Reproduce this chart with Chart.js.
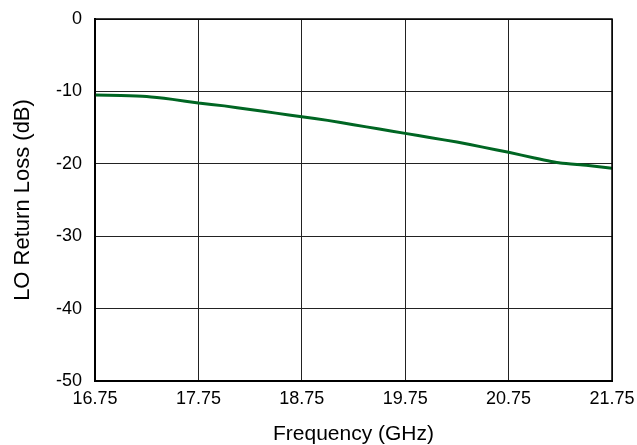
<!DOCTYPE html>
<html><head><meta charset="utf-8">
<script src="https://cdn.jsdelivr.net/npm/chart.js@4.4.0/dist/chart.umd.min.js"></script>
<style>html,body{margin:0;padding:0;background:#fff}#wrap{width:637px;height:445px}</style>
</head><body><div id="wrap"><canvas id="c"></canvas></div>
<script>
const freqGHz = [16.75,17.0,17.25,17.5,17.75,18.0,18.25,18.5,18.75,19.0,19.25,19.5,19.75,20.0,20.25,20.5,20.75,21.0,21.25,21.5,21.75];
const returnLossDb = [-10.5,-10.55,-10.7,-11.1,-11.6,-12.0,-12.5,-13.0,-13.5,-14.0,-14.6,-15.2,-15.8,-16.4,-17.0,-17.7,-18.4,-19.2,-19.9,-20.2,-20.6];
const xTicks = [16.75,17.75,18.75,19.75,20.75,21.75];
const yTicks = [-50,-40,-30,-20,-10,0];
const xTitle = 'Frequency (GHz)';
const yTitle = 'LO Return Loss (dB)';

const fam = '"Liberation Sans", Arial, sans-serif';
const tickFont = {family:fam, size:18};
new Chart(document.getElementById('c'), {
  type:'line',
  data:{datasets:[{data:freqGHz.map((x,i)=>({x, y:returnLossDb[i]})), borderColor:'#006623', borderWidth:3, pointRadius:0, tension:0.2, fill:false}]},
  options:{
    responsive:true, maintainAspectRatio:false, animation:false,
    layout:{padding:{left:0,right:25,top:19,bottom:0}},
    plugins:{legend:{display:false}, tooltip:{enabled:false}},
    scales:{
      x:{type:'linear', min:16.75, max:21.75,
        afterBuildTicks:s=>{s.ticks=xTicks.map(v=>({value:v}));},
        afterFit:s=>{s.height=64;s.paddingLeft=0;s.paddingRight=0;},
        grid:{color:'#222', lineWidth:1, drawTicks:false},
        border:{color:'#000', width:2},
        ticks:{color:'#000', font:tickFont, padding:7, maxRotation:0, callback:v=>v.toFixed(2)},
        title:{display:true, text:xTitle, color:'#000', font:{family:fam, size:21, lineHeight:1}, padding:{top:0,bottom:0}}},
      y:{min:-50, max:0,
        afterBuildTicks:s=>{s.ticks=yTicks.map(v=>({value:v}));},
        afterFit:s=>{s.width=95;s.paddingTop=0;s.paddingBottom=0;},
        grid:{color:'#222', lineWidth:1, drawTicks:false},
        border:{color:'#000', width:2},
        ticks:{color:'#000', font:tickFont, padding:13},
        title:{display:true, text:yTitle, color:'#000', font:{family:fam, size:22, lineHeight:1}, padding:{top:12,bottom:0}}}
    }
  },
  plugins:[{id:'frame', afterDraw(c){const a=c.chartArea,ctx=c.ctx;ctx.save();ctx.strokeStyle='#000';ctx.lineWidth=1.5;ctx.strokeRect(a.left,a.top,a.right-a.left,a.bottom-a.top);ctx.restore();}}]
});
</script></body></html>
